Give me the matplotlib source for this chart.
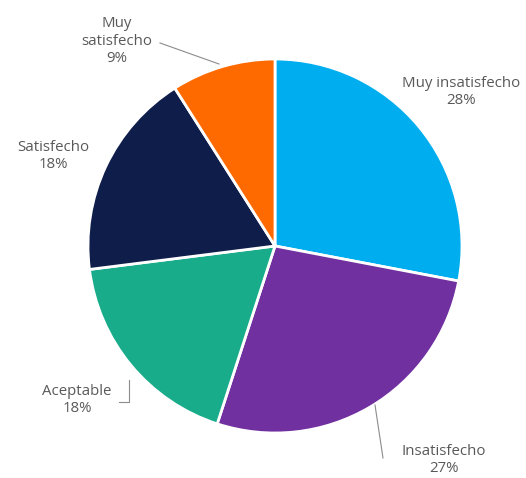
import matplotlib.pyplot as plt

# satisfaction survey shares, clockwise from 12 o'clock
categories = ['Muy insatisfecho', 'Insatisfecho', 'Aceptable', 'Satisfecho', 'Muy satisfecho']
shares = [28, 27, 18, 18, 9]
colors = ['#00AEEF', '#7030A0', '#19AC8A', '#0E1D4A', '#FF6A00']

# label placement (pixel coords, y measured from top) and leader lines
label_pos = [(461, 92), (444, 460), (77, 400), (53, 156), (117, 41)]
leaders = {
    1: [(383, 458), (375, 405)],
    2: [(119, 402), (129, 402), (129, 380)],
    4: [(160, 43), (219, 64)],
}

W, H = 526, 478
fig = plt.figure(figsize=(W / 100, H / 100), dpi=100)
ax = fig.add_axes([0, 0, 1, 1])

cx, cy, r = 275, H - 246, 187
ax.pie(shares, colors=colors, startangle=90, counterclock=False,
       center=(cx, cy), radius=r, frame=True,
       wedgeprops=dict(edgecolor='white', linewidth=2))
ax.set_xlim(0, W)
ax.set_ylim(0, H)
ax.set_aspect('equal')
ax.axis('off')

for i, (name, val) in enumerate(zip(categories, shares)):
    x, y = label_pos[i]
    if name == 'Muy satisfecho':
        txt = 'Muy\nsatisfecho\n%d%%' % val
    else:
        txt = '%s\n%d%%' % (name, val)
    ax.text(x, H - y, txt, ha='center', va='center', fontsize=10.8,
            color='#595959', family='Open Sans', linespacing=1.2)

for i, pts in leaders.items():
    xs = [p[0] for p in pts]
    ys = [H - p[1] for p in pts]
    ax.plot(xs, ys, color='#8C8C8C', linewidth=0.8)

fig.savefig('out.png', dpi=100)
